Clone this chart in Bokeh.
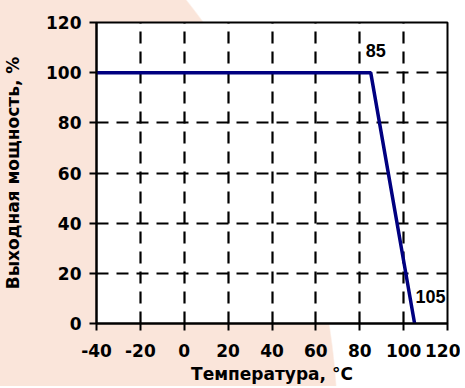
from bokeh.plotting import figure
from bokeh.embed import file_html
from bokeh.resources import INLINE
from bokeh.models import FixedTicker, Range1d
from bokeh.core.properties import value

# data
temps = [-40, 85, 105]
power = [100, 100, 0]
x_ticks = [-40, -20, 0, 20, 40, 60, 80, 100, 120]
x_tick_labels = ["-40", "-20", "0", "20", "40", "60", "80", "100", "120"]
y_ticks = [0, 20, 40, 60, 80, 100, 120]
ann_x = [85, 105]
ann_y = [100, 0]
ann_text = ["85", "105"]

FONT = "DejaVu Sans"
ANN_FONT = "Liberation Sans"

p = figure(width=460, height=386, output_backend="svg", toolbar_location=None,
           x_range=Range1d(-40, 120), y_range=Range1d(0, 120),
           min_border_left=95, min_border_right=13, min_border_top=22, min_border_bottom=62)
p.border_fill_alpha = 0
p.background_fill_color = "white"
p.styles = {"background": "radial-gradient(circle 695px at -357px 433px, #fae5da 694px, rgba(255,255,255,0) 695.5px)"}
p.outline_line_color = "black"
p.outline_line_width = 2

for ax in (p.xaxis[0], p.yaxis[0]):
    ax.axis_line_width = 2
    ax.axis_line_color = "black"
    ax.major_tick_line_width = 2
    ax.major_tick_out = 7
    ax.major_tick_in = 0
    ax.minor_tick_line_color = None
    ax.major_label_text_font = FONT
    ax.major_label_text_font_style = "bold"
    ax.major_label_text_font_size = "17px"
    ax.major_label_text_color = "black"
    ax.axis_label_text_font = FONT
    ax.axis_label_text_font_style = "bold"
    ax.axis_label_text_font_size = "17px"
    ax.axis_label_text_color = "black"

p.xaxis.ticker = FixedTicker(ticks=x_ticks)
p.xaxis.major_label_overrides = {t: s for t, s in zip(x_ticks, x_tick_labels)}
p.yaxis.ticker = FixedTicker(ticks=y_ticks)
p.xaxis.axis_label = "Температура, °C"
p.yaxis.axis_label = "Выходная мощность, %"
p.xaxis.major_label_standoff = 13
p.yaxis.major_label_standoff = 8
p.xaxis.axis_label_standoff = 4
p.yaxis.axis_label_standoff = 20

for g in (p.xgrid[0], p.ygrid[0]):
    g.grid_line_color = "black"
    g.grid_line_width = 2.2
    g.grid_line_dash = "12 8"

p.line(temps, power, line_color="#000080", line_width=3.5)

p.text(x=ann_x, y=ann_y, text=ann_text, text_font=value(ANN_FONT), text_font_style="bold",
       text_font_size="18px", text_color="black", x_offset=[-5, 1], y_offset=[-22, -27],
       text_baseline="middle", text_align="left")

open("out.html", "w").write(file_html(p, INLINE))
